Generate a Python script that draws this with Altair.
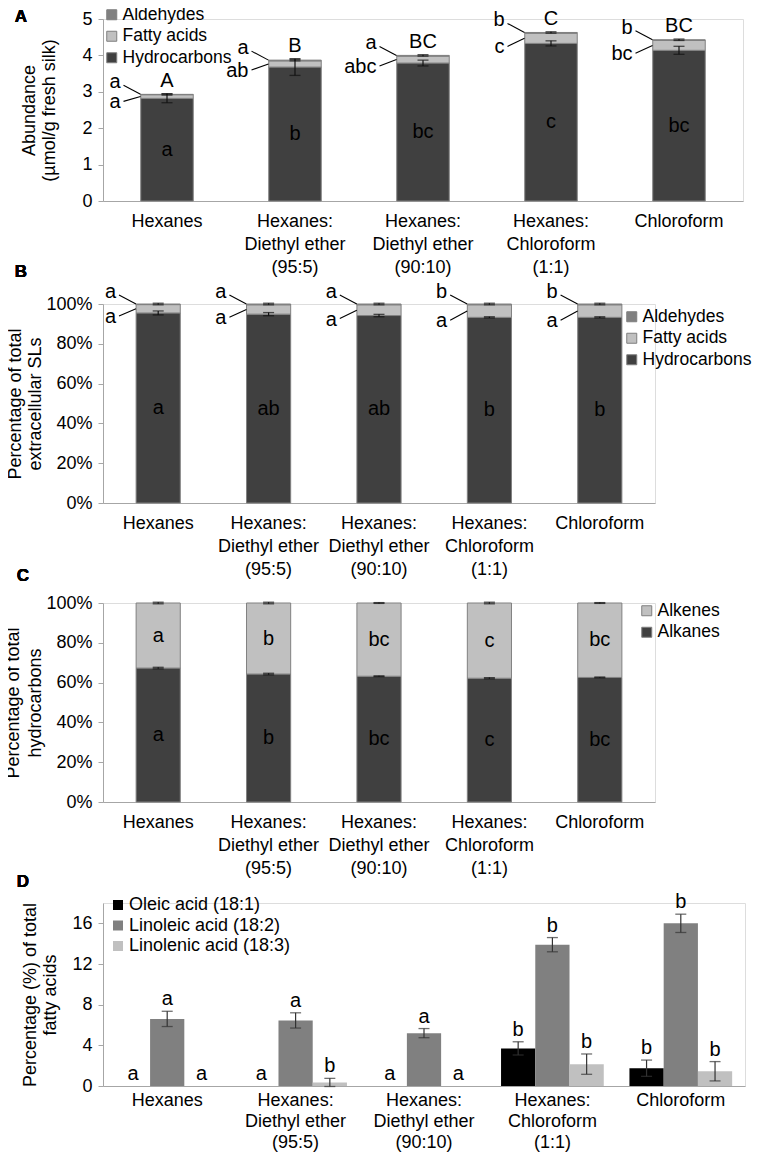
import altair as alt
import pandas as pd

FONT = "Liberation Sans"
GREY_AX = "#a6a6a6"

cats = ["Hexanes", "Hexanes:|Diethyl ether|(95:5)", "Hexanes:|Diethyl ether|(90:10)",
        "Hexanes:|Chloroform|(1:1)", "Chloroform"]

# ---------------- Panel A : abundance (umol/g fresh silk)
a_hydrocarbons = [2.82, 3.68, 3.79, 4.33, 4.14]
a_fatty_acids = [0.10, 0.17, 0.19, 0.28, 0.27]
a_aldehydes = [0.01, 0.02, 0.02, 0.02, 0.02]
a_hc_err = [0.12, 0.23, 0.08, 0.07, 0.11]
a_total_err = [0.02, 0.02, 0.02, 0.02, 0.02]
a_total_letters = ["A", "B", "BC", "C", "BC"]
a_hc_letters = ["a", "b", "bc", "c", "bc"]
a_ald_letters = ["a", "a", "a", "b", "b"]
a_fa_letters = ["a", "ab", "abc", "c", "bc"]

# ---------------- Panel B : percentage of total extracellular SLs
b_hydrocarbons = [95.5, 94.9, 94.2, 93.3, 93.3]
b_fatty_acids = [4.2, 4.7, 5.4, 6.3, 6.3]
b_aldehydes = [0.3, 0.4, 0.4, 0.4, 0.4]
b_hc_err = [1.0, 0.8, 0.6, 0.3, 0.3]
b_total_err = [0.4, 0.4, 0.4, 0.4, 0.4]
b_hc_letters = ["a", "ab", "ab", "b", "b"]
b_ald_letters = ["a", "a", "a", "b", "b"]
b_fa_letters = ["a", "a", "a", "a", "a"]

# ---------------- Panel C : percentage of total hydrocarbons
c_alkanes = [67.3, 64.3, 63.2, 62.2, 62.6]
c_alkenes = [32.7, 35.7, 36.8, 37.8, 37.4]
c_alkane_err = [0.4, 0.4, 0.2, 0.3, 0.2]
c_total_err = [0.4, 0.4, 0.2, 0.4, 0.2]
c_letters = ["a", "b", "bc", "c", "bc"]

# ---------------- Panel D : percentage of total fatty acids
acids = ["Oleic acid (18:1)", "Linoleic acid (18:2)", "Linolenic acid (18:3)"]
d_oleic = [0, 0, 0, 3.7, 1.75]
d_oleic_err = [0, 0, 0, 0.65, 0.8]
d_oleic_letters = ["a", "a", "a", "b", "b"]
d_linoleic = [6.6, 6.45, 5.2, 13.9, 16.0]
d_linoleic_err = [0.75, 0.75, 0.45, 0.7, 0.9]
d_linoleic_letters = ["a", "a", "a", "b", "b"]
d_linolenic = [0, 0.35, 0, 2.15, 1.45]
d_linolenic_err = [0, 0.4, 0, 1.0, 0.95]
d_linolenic_letters = ["a", "b", "a", "b", "b"]


def xaxis(fs=18, lh=23, pad=11):
    return alt.Axis(title=None, labelAngle=0, ticks=False, domainColor=GREY_AX, domainWidth=1,
                    labelFontSize=fs, labelColor="black", labelFont=FONT,
                    labelExpr="split(datum.label, '|')", labelLineHeight=lh, labelPadding=pad)


def yaxis(title, values, pct=False, title_pad=2, title_lh=20):
    kw = dict(title=title, values=values, grid=False, domainColor=GREY_AX, tickColor=GREY_AX,
              tickSize=5, labelFontSize=18, labelColor="black", labelFont=FONT, labelPadding=6,
              titleFontSize=18, titleFontWeight="normal", titleColor="black", titleFont=FONT,
              titleLineHeight=title_lh, titlePadding=title_pad)
    if pct:
        kw["labelExpr"] = "datum.value + '%'"
    return alt.Axis(**kw)


def X(pi, ax):
    return alt.X("cat:N", sort=cats, scale=alt.Scale(paddingInner=pi, paddingOuter=pi / 2), axis=ax,
                 bandPosition=0.5)


def Y(field, dom, ax, **kw):
    return alt.Y(f"{field}:Q", scale=alt.Scale(domain=dom), axis=ax, **kw)


def legend(x, y, stroke=True, fs=18):
    return alt.Legend(orient="none", legendX=x, legendY=y, title=None, labelFontSize=fs, labelFont=FONT,
                      labelColor="black", symbolType="square", symbolSize=100, labelLimit=300,
                      symbolStrokeColor="#7f7f7f" if stroke else "transparent",
                      symbolStrokeWidth=1 if stroke else 0, rowPadding=2.5, labelOffset=2)


def panel_letter(df, letter, xpix, ypix):
    return alt.Chart(df).mark_text(font=FONT, fontSize=17, fontWeight="bold", color="black",
                                   align="center", baseline="middle").encode(
        x=alt.value(xpix), y=alt.value(ypix), text=alt.value(letter))


def spacer(df, xpix, y1, y2):
    # transparent rule that only reserves vertical room between stacked panels
    return alt.Chart(df).mark_rule(opacity=0).encode(x=alt.value(xpix), y=alt.value(y1), y2=alt.value(y2))


def sl_panel(hc, fa, ald, hc_err, tot_err, top_letters, hc_letters, ald_letters, fa_letters,
             dom, ya, pi, leg, half):
    xa = xaxis()
    comps = [("Hydrocarbons", hc), ("Fatty acids", fa), ("Aldehydes", ald)]
    long = pd.DataFrame([{"cat": c, "comp": name, "value": v, "ord": k}
                         for k, (name, vals) in enumerate(comps) for c, v in zip(cats, vals)])
    w = pd.DataFrame({"cat": cats, "hc": hc, "fa": fa, "ald": ald, "hc_err": hc_err, "tot_err": tot_err,
                      "hc_lab": hc_letters, "ald_lab": ald_letters, "fa_lab": fa_letters})
    if top_letters is not None:
        w["top_lab"] = top_letters
    w["total"] = w.hc + w.fa + w.ald
    w["fa_mid"] = w.hc + w.fa / 2
    w["hc_half"] = w.hc / 2
    w["hc_lo"] = w.hc - w.hc_err
    w["hc_hi"] = w.hc + w.hc_err
    w["tot_lo"] = w.total - w.tot_err
    w["tot_hi"] = w.total + w.tot_err

    bars = alt.Chart(long).mark_bar(stroke="#808080", strokeWidth=1).encode(
        x=X(pi, xa), y=Y("value", dom, ya, stack="zero"),
        color=alt.Color("comp:N", scale=alt.Scale(domain=["Aldehydes", "Fatty acids", "Hydrocarbons"],
                                                  range=["#808080", "#c0c0c0", "#404040"]),
                        legend=leg),
        order=alt.Order("ord:Q"))
    base = alt.Chart(w)
    layers = [bars]
    for lo, hi in [("hc_lo", "hc_hi"), ("tot_lo", "tot_hi")]:
        layers.append(base.mark_rule(color="#111111", strokeWidth=1.2).encode(
            x=X(pi, xa), y=Y(lo, dom, ya), y2=alt.Y2(f"{hi}:Q")))
        for f in (lo, hi):
            layers.append(base.mark_tick(color="#111111", thickness=1.3, size=11).encode(
                x=X(pi, xa), y=Y(f, dom, ya)))
    txt = dict(font=FONT, fontSize=20, color="black")
    layers.append(base.mark_text(baseline="middle", **txt).encode(
        x=X(pi, xa), y=Y("hc_half", dom, ya), text="hc_lab:N"))
    if top_letters is not None:
        layers.append(base.mark_text(baseline="bottom", dy=-3, **txt).encode(
            x=X(pi, xa), y=Y("tot_hi", dom, ya), text="top_lab:N"))
    # side letters with leader lines
    layers.append(base.mark_text(align="right", baseline="middle", dx=-(half + 20), dy=-12, **txt).encode(
        x=X(pi, xa), y=Y("total", dom, ya), text="ald_lab:N"))
    layers.append(base.mark_text(align="right", baseline="middle", dx=-(half + 20), dy=4, **txt).encode(
        x=X(pi, xa), y=Y("hc", dom, ya), text="fa_lab:N"))
    layers.append(base.mark_rule(color="black", strokeWidth=1.1, xOffset=-(half + 17), x2Offset=-half,
                                 yOffset=-9, y2Offset=0).encode(
        x=X(pi, xa), x2=alt.X2("cat:N", bandPosition=0.5), y=Y("total", dom, ya), y2=alt.Y2("total:Q")))
    layers.append(base.mark_rule(color="black", strokeWidth=1.1, xOffset=-(half + 17), x2Offset=-half,
                                 yOffset=3, y2Offset=0).encode(
        x=X(pi, xa), x2=alt.X2("cat:N", bandPosition=0.5), y=Y("hc", dom, ya), y2=alt.Y2("fa_mid:Q")))
    return layers, w


# ---- Panel A
A_W, A_H = 640, 182
yaA = yaxis(["Abundance", "(\u00b5mol/g fresh silk)"], [0, 1, 2, 3, 4, 5], False, title_pad=23)
layersA, wA = sl_panel(a_hydrocarbons, a_fatty_acids, a_aldehydes, a_hc_err, a_total_err, a_total_letters,
                       a_hc_letters, a_ald_letters, a_fa_letters, [0, 5], yaA, 0.59,
                       legend(0, -13, fs=17.5), 26.5)
layersA.append(panel_letter(wA, "A", -82, -2))
layersA.append(panel_letter(wA, "B", -82, A_H + 71))
chartA = alt.layer(*layersA).properties(width=A_W, height=A_H)

# ---- Panel B
B_W, B_H = 552, 199
yaB = yaxis(["Percentage of total", "extracellular SLs"], [0, 20, 40, 60, 80, 100], True, title_pad=1)
layersB, wB = sl_panel(b_hydrocarbons, b_fatty_acids, b_aldehydes, b_hc_err, b_total_err, None,
                       b_hc_letters, b_ald_letters, b_fa_letters, [0, 100], yaB, 0.6,
                       legend(520, 4, fs=17.5), 22.2)
layersB.append(panel_letter(wB, "C", -80, B_H + 73))
layersB.append(spacer(wB, -80, B_H + 73, B_H + 89))
chartB = alt.layer(*layersB).properties(width=B_W, height=B_H)

# ---- Panel C
C_W, C_H = 552, 199
xa = xaxis()
yaC = yaxis(["Percentage of total", "hydrocarbons"], [0, 20, 40, 60, 80, 100], True, title_pad=1,
            title_lh=22)
longC = pd.DataFrame([{"cat": c, "comp": name, "value": v, "ord": k}
                      for k, (name, vals) in enumerate([("Alkanes", c_alkanes), ("Alkenes", c_alkenes)])
                      for c, v in zip(cats, vals)])
wC = pd.DataFrame({"cat": cats, "alk": c_alkanes, "ene": c_alkenes, "e1": c_alkane_err, "e2": c_total_err,
                   "lab": c_letters})
wC["total"] = wC.alk + wC.ene
wC["alk_half"] = wC.alk / 2
wC["ene_mid"] = wC.alk + wC.ene / 2
wC["lo1"] = wC.alk - wC.e1
wC["hi1"] = wC.alk + wC.e1
wC["lo2"] = wC.total - wC.e2
wC["hi2"] = wC.total + wC.e2
piC = 0.6
layersC = [alt.Chart(longC).mark_bar(stroke="#808080", strokeWidth=1).encode(
    x=X(piC, xa), y=Y("value", [0, 100], yaC, stack="zero"),
    color=alt.Color("comp:N", scale=alt.Scale(domain=["Alkenes", "Alkanes"], range=["#c0c0c0", "#404040"]),
                    legend=legend(535, -1, fs=17.5)),
    order=alt.Order("ord:Q"))]
baseC = alt.Chart(wC)
for lo, hi in [("lo1", "hi1"), ("lo2", "hi2")]:
    layersC.append(baseC.mark_rule(color="#111111", strokeWidth=1.2).encode(
        x=X(piC, xa), y=Y(lo, [0, 100], yaC), y2=alt.Y2(f"{hi}:Q")))
    for f in (lo, hi):
        layersC.append(baseC.mark_tick(color="#111111", thickness=1.3, size=11).encode(
            x=X(piC, xa), y=Y(f, [0, 100], yaC)))
for f in ("alk_half", "ene_mid"):
    layersC.append(baseC.mark_text(font=FONT, fontSize=20, color="black", baseline="middle").encode(
        x=X(piC, xa), y=Y(f, [0, 100], yaC), text="lab:N"))
layersC.append(panel_letter(wC, "D", -80, C_H + 80))
chartC = alt.layer(*layersC).properties(width=C_W, height=C_H)

# ---- Panel D
D_W, D_H = 642, 183
xaD = xaxis(lh=21, pad=5)
yaD = yaxis(["Percentage (%) of total", "fatty acids"], [0, 4, 8, 12, 16], False, title_pad=12)
rows = []
for acid, vals, errs, labs in [(acids[0], d_oleic, d_oleic_err, d_oleic_letters),
                               (acids[1], d_linoleic, d_linoleic_err, d_linoleic_letters),
                               (acids[2], d_linolenic, d_linolenic_err, d_linolenic_letters)]:
    for c, v, e, l in zip(cats, vals, errs, labs):
        rows.append({"cat": c, "acid": acid, "value": v, "err": e, "lab": l})
dfD = pd.DataFrame(rows)
dfD["lo"] = dfD.value - dfD.err
dfD["hi"] = dfD.value + dfD.err
piD = 0.2
XO = alt.XOffset("acid:N", sort=acids, scale=alt.Scale(paddingInner=0, paddingOuter=0))
baseD = alt.Chart(dfD)
errD = baseD.transform_filter("datum.err > 0")
layersD = [
    baseD.mark_bar().encode(
        x=X(piD, xaD), xOffset=XO, y=Y("value", [0, 18], yaD),
        color=alt.Color("acid:N", sort=acids,
                        scale=alt.Scale(domain=acids, range=["#000000", "#808080", "#c0c0c0"]),
                        legend=legend(6, -7, stroke=False))),
    errD.mark_rule(color="#333333", strokeWidth=1.2).encode(
        x=X(piD, xaD), xOffset=XO, y=Y("lo", [0, 18], yaD), y2=alt.Y2("hi:Q")),
    errD.mark_tick(color="#333333", thickness=1.3, size=11).encode(
        x=X(piD, xaD), xOffset=XO, y=Y("lo", [0, 18], yaD)),
    errD.mark_tick(color="#333333", thickness=1.3, size=11).encode(
        x=X(piD, xaD), xOffset=XO, y=Y("hi", [0, 18], yaD)),
    baseD.mark_text(font=FONT, fontSize=20, color="black", baseline="bottom", dy=-2).encode(
        x=X(piD, xaD), xOffset=XO, y=Y("hi", [0, 18], yaD), text="lab:N"),
]
chartD = alt.layer(*layersD).properties(width=D_W, height=D_H)

chart = alt.vconcat(chartA, chartB, chartC, chartD, spacing=0).resolve_scale(
    color="independent").configure_view(stroke=None).configure(
    font=FONT, padding={"top": -3, "left": -4, "right": 0, "bottom": 0})

chart.save("out.html", embed_options={"renderer": "svg", "actions": False})
